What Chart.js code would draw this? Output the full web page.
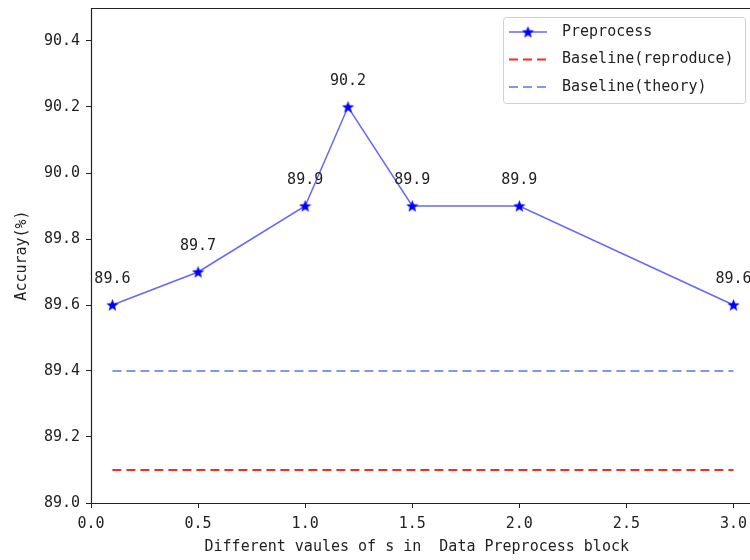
<!doctype html>
<html>
<head>
<meta charset="UTF-8">
<script src="https://cdn.jsdelivr.net/npm/chart.js@4"></script>
<style>
	html, body { margin: 0; padding: 0; background: #fff; }
	#wrap { width: 750px; height: 560px; }
</style>
</head>
<body>
<div id="wrap"><canvas id="chart"></canvas></div>
<script>
	const sValues = [0.1, 0.5, 1.0, 1.2, 1.5, 2.0, 3.0];
	const accuracy = [89.6, 89.7, 89.9, 90.2, 89.9, 89.9, 89.6];
	const baselineX = [0.1, 3.0];
	const reproduceAcc = [89.1, 89.1];
	const theoryAcc = [89.4, 89.4];
	const xTicks = [0.0, 0.5, 1.0, 1.5, 2.0, 2.5, 3.0];
	const yTicks = [89.0, 89.2, 89.4, 89.6, 89.8, 90.0, 90.2, 90.4];

	const FONT = '"DejaVu Sans Mono", monospace';

	// filled star like matplotlib '*'
	function makeStar(size, color) {
		const c = document.createElement('canvas');
		c.width = size; c.height = size;
		const g = c.getContext('2d');
		const cx = size / 2, cy = size / 2 + 0.5, R = size / 2, r = R * 0.42;
		g.beginPath();
		for (let i = 0; i < 10; i++) {
			const rad = i % 2 ? r : R;
			const a = -Math.PI / 2 + i * Math.PI / 5;
			g.lineTo(cx + rad * Math.cos(a), cy + rad * Math.sin(a));
		}
		g.closePath();
		g.fillStyle = color;
		g.fill();
		return c;
	}
	const star = makeStar(13, '#0000ff');

	const pts = (xs, ys) => xs.map((x, i) => ({ x: x, y: ys[i] }));

	const frame = {
		id: 'frame',
		afterDraw(chart) {
			const { ctx, chartArea: a } = chart;
			const W = chart.width;
			ctx.save();
			// axes spines (right one is off the picture)
			ctx.strokeStyle = '#222';
			ctx.lineWidth = 1.2;
			ctx.beginPath();
			ctx.moveTo(W, a.top + 0.5);
			ctx.lineTo(a.left + 0.5, a.top + 0.5);
			ctx.lineTo(a.left + 0.5, a.bottom + 0.5);
			ctx.lineTo(W, a.bottom + 0.5);
			ctx.stroke();

			// point labels
			const meta = chart.getDatasetMeta(0);
			ctx.font = '15px ' + FONT;
			ctx.fillStyle = '#222';
			ctx.textAlign = 'center';
			ctx.textBaseline = 'middle';
			meta.data.forEach((p, i) => {
				ctx.fillText(accuracy[i].toFixed(1), p.x, p.y - 26);
			});

			// legend
			const lx = 503, ly = 17, lw = 242, lh = 86;
			ctx.fillStyle = 'rgba(255,255,255,0.85)';
			ctx.strokeStyle = '#d0d0d0';
			ctx.lineWidth = 1;
			ctx.beginPath();
			ctx.roundRect(lx + 0.5, ly + 0.5, lw, lh, 3);
			ctx.fill();
			ctx.stroke();
			const rows = chart.data.datasets;
			rows.forEach((ds, i) => {
				const y = ly + 15 + i * 27.5;
				ctx.strokeStyle = ds.borderColor;
				ctx.lineWidth = ds.borderWidth;
				ctx.setLineDash(ds.borderDash || []);
				ctx.beginPath();
				ctx.moveTo(lx + 6, y);
				ctx.lineTo(lx + 44, y);
				ctx.stroke();
				ctx.setLineDash([]);
				if (i === 0) ctx.drawImage(star, lx + 25 - 6.5, y - 6.5);
				ctx.fillStyle = '#222';
				ctx.textAlign = 'left';
				ctx.fillText(ds.label, lx + 59, y);
			});
			ctx.restore();
		}
	};

	new Chart(document.getElementById('chart'), {
		type: 'line',
		data: {
			datasets: [
				{
					label: 'Preprocess',
					data: pts(sValues, accuracy),
					borderColor: 'rgba(0,0,255,0.6)',
					borderWidth: 1.5,
					pointStyle: star,
					pointRadius: 6,
					tension: 0,
				},
				{
					label: 'Baseline(reproduce)',
					data: pts(baselineX, reproduceAcc),
					borderColor: 'rgba(255,0,0,0.85)',
					borderDash: [9, 5],
					borderWidth: 2,
					pointRadius: 0,
				},
				{
					label: 'Baseline(theory)',
					data: pts(baselineX, theoryAcc),
					borderColor: 'rgba(65,105,225,0.9)',
					borderDash: [9, 5],
					borderWidth: 1.6,
					pointRadius: 0,
				},
			],
		},
		options: {
			responsive: true,
			maintainAspectRatio: false,
			animation: false,
			layout: { padding: { top: 8, right: 0, left: 9, bottom: 0 } },
			plugins: { legend: { display: false }, tooltip: { enabled: false } },
			scales: {
				x: {
					type: 'linear',
					min: 0,
					max: 3.042,
					afterBuildTicks: (s) => { s.ticks = xTicks.map(v => ({ value: v })); },
					afterFit: (s) => { s.height = 57; s.paddingLeft = 0; s.paddingRight = 0; },
					grid: { drawOnChartArea: false, tickLength: 5, color: '#222' },
					border: { display: false },
					ticks: {
						color: '#222',
						font: { family: FONT, size: 15 },
						padding: 7,
						maxRotation: 0,
						callback: (v) => Number(v).toFixed(1),
					},
					title: {
						display: true,
						text: 'Different vaules of s in  Data Preprocess block',
						color: '#222',
						font: { family: FONT, size: 15 },
						padding: { top: 0 },
					},
				},
				y: {
					min: 89.0,
					max: 90.5,
					afterBuildTicks: (s) => { s.ticks = yTicks.map(v => ({ value: v })); },
					afterFit: (s) => { s.width = 82; s.paddingTop = 0; s.paddingBottom = 0; },
					grid: { drawOnChartArea: false, tickLength: 5, color: '#222' },
					border: { display: false },
					ticks: {
						color: '#222',
						font: { family: FONT, size: 15 },
						padding: 6,
						callback: (v) => Number(v).toFixed(1),
					},
					title: {
						display: true,
						text: 'Accuray(%)',
						color: '#222',
						font: { family: FONT, size: 15 },
						padding: { bottom: 0 },
					},
				},
			},
		},
		plugins: [frame],
	});
</script>
</body>
</html>
